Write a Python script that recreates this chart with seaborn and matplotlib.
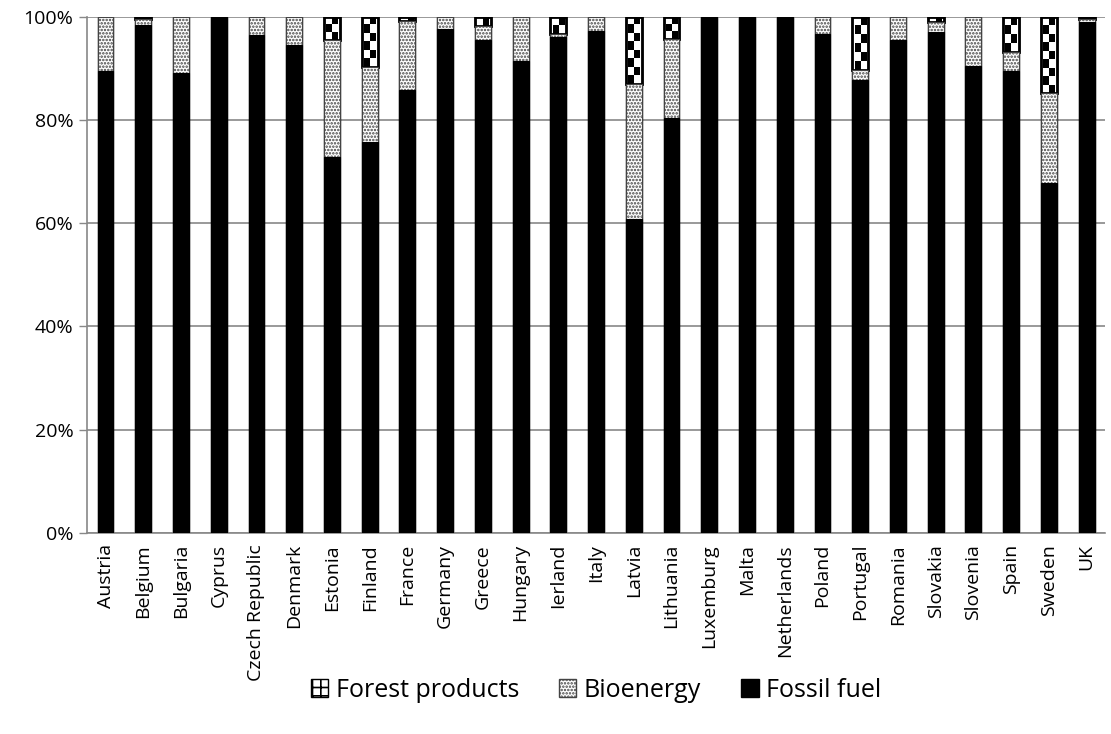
import numpy as np
import pandas as pd
import matplotlib
matplotlib.use('Agg')
import matplotlib.pyplot as plt
import seaborn as sns
from matplotlib.patches import Patch

# share of each product group per country (%)
countries = ['Austria', 'Belgium', 'Bulgaria', 'Cyprus', 'Czech Republic', 'Denmark',
             'Estonia', 'Finland', 'France', 'Germany', 'Greece', 'Hungary', 'Ierland',
             'Italy', 'Latvia', 'Lithuania', 'Luxemburg', 'Malta', 'Netherlands', 'Poland',
             'Portugal', 'Romania', 'Slovakia', 'Slovenia', 'Spain', 'Sweden', 'UK']
fossil = [89.5, 98.5, 89.2, 100, 96.5, 94.5, 72.9, 75.8, 85.9, 97.7, 95.5, 91.5, 96.1,
          97.3, 60.9, 80.4, 100, 100, 100, 96.7, 87.8, 95.5, 97.0, 90.5, 89.5, 67.8, 99.0]
bioenergy = [10.5, 1.0, 10.8, 0, 3.5, 5.5, 22.6, 14.5, 13.3, 2.3, 2.8, 8.5, 0.6,
             2.7, 26.1, 15.3, 0, 0, 0, 3.3, 1.9, 4.5, 2.0, 9.5, 3.7, 17.5, 0.5]
forest = [0, 0.5, 0, 0, 0, 0, 4.5, 9.7, 0.8, 0, 1.7, 0, 3.3,
          0, 13.0, 4.3, 0, 0, 0, 0, 10.3, 0, 1.0, 0, 6.8, 14.7, 0.5]

df = pd.DataFrame({'country': countries, 'fossil': fossil,
                   'bio': bioenergy, 'forest': forest})
df['bio_top'] = df['fossil'] + df['bio']
df['total'] = df['bio_top'] + df['forest']

sns.set_style('white')
plt.rcParams['font.family'] = ['Open Sans', 'DejaVu Sans']
plt.rcParams['hatch.color'] = '#555555'
plt.rcParams['hatch.linewidth'] = 1.2
plt.rcParams['text.color'] = 'black'
plt.rcParams['xtick.color'] = 'black'
plt.rcParams['ytick.color'] = 'black'

fig, ax = plt.subplots(figsize=(11.11, 7.34), dpi=100)
fig.subplots_adjust(left=0.078, right=0.995, top=0.977, bottom=0.274)

bw = 0.42
# forest products (top of the stack)
sns.barplot(data=df, x='country', y='total', color='white', width=bw,
            edgecolor='black', linewidth=1.0, ax=ax, zorder=2)
forest_bars = list(ax.patches)
sns.barplot(data=df, x='country', y='bio_top', color='white', width=bw,
            edgecolor='#444444', linewidth=0.8, hatch='.....', ax=ax, zorder=4)
bio_bars = list(ax.patches)[len(forest_bars):]
sns.barplot(data=df, x='country', y='fossil', color='black', width=bw,
            edgecolor='black', linewidth=0.8, ax=ax, zorder=5)

# checkerboard for forest products, clipped to each forest bar
for fb, bb, f in zip(forest_bars, bio_bars, df['forest']):
    if f <= 0:
        continue
    x0 = fb.get_x()
    x1 = x0 + fb.get_width()
    y0 = bb.get_height()
    y1 = fb.get_height()
    ny = max(1, int(round((y1 - y0) / 1.6)))
    board = (np.indices((ny, 2)).sum(axis=0) % 2).astype(float)
    im = ax.imshow(board, cmap='gray_r', extent=(x0 + 0.06, x1 - 0.06, y0, y1),
                   aspect='auto', interpolation='nearest', zorder=3, vmin=0, vmax=1)
    im.set_clip_path(fb)
    # dark frame around the segment
    ax.bar(fb.get_x() + fb.get_width() / 2, y1 - y0, bottom=y0, width=fb.get_width(),
           fill=False, edgecolor='black', linewidth=2.0, zorder=3.5)

ax.set_xlim(-0.5, len(countries) - 0.5)
ax.set_ylim(0, 100)
ax.set_yticks([0, 20, 40, 60, 80, 100])
ax.set_yticklabels(['0%', '20%', '40%', '60%', '80%', '100%'], fontsize=14)
ax.set_xticks(range(len(countries)))
ax.set_xticklabels(countries, rotation=90, fontsize=14)
ax.set_xticks(np.arange(-0.5, len(countries), 1), minor=True)
ax.tick_params(axis='x', which='major', length=0, pad=8)
ax.tick_params(axis='x', which='minor', length=6, color='#888888', width=1)
ax.tick_params(axis='y', length=6, color='#888888', width=1, left=True)
ax.set_xlabel('')
ax.set_ylabel('')
ax.yaxis.grid(True, color='#888888', linewidth=1.2)
ax.set_axisbelow(True)
for s in ['top', 'right']:
    ax.spines[s].set_visible(False)
for s in ['left', 'bottom']:
    ax.spines[s].set_color('#888888')
    ax.spines[s].set_linewidth(1.2)

handles = [Patch(facecolor='white', edgecolor='black', hatch='++', label='Forest products'),
           Patch(facecolor='white', edgecolor='#444444', hatch='.....', label='Bioenergy'),
           Patch(facecolor='black', edgecolor='black', label='Fossil fuel')]
ax.legend(handles=handles, loc='center', bbox_to_anchor=(0.5, -0.305), ncol=3,
          frameon=False, fontsize=18, handlelength=0.7, handleheight=0.7,
          handletextpad=0.3, columnspacing=1.6)

fig.savefig('out.png', dpi=100)
